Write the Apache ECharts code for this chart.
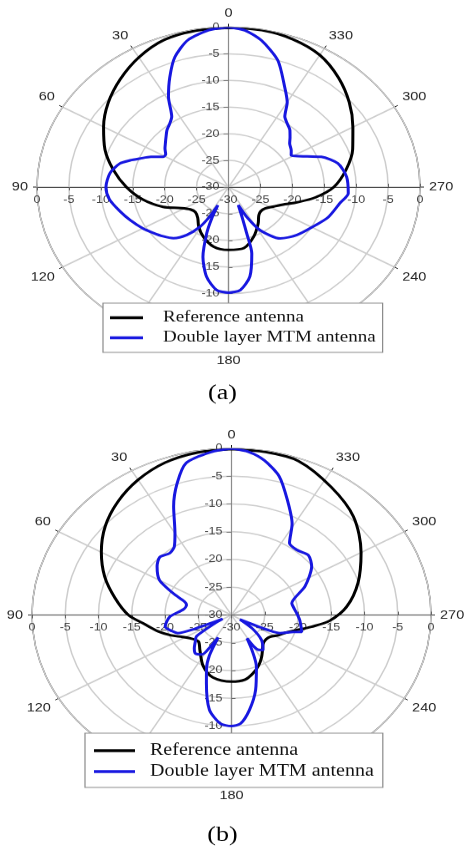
<!DOCTYPE html>
<html><head><meta charset="utf-8">
<script src="https://cdn.jsdelivr.net/npm/echarts@6/dist/echarts.min.js"></script>
<style>
html,body{margin:0;padding:0;background:#fff;overflow:hidden;width:468px;height:848px;}
#wrap{width:468px;height:848px;overflow:hidden;position:relative;}
#chart{width:468px;height:1016px;transform:scaleY(0.835);transform-origin:0 0;}
</style></head><body><div id="wrap"><div id="chart"></div></div>
<script>
// ---- data (angle in degrees, counter-clockwise from top; gain in dB) ----
const seriesNames = ['Reference antenna', 'Double layer MTM antenna'];
const captions = ['(a)', '(b)'];

const refAngA = [0,10,20,30,40,50,60,70,80,90,100,110,118,125,132,140,148,157,168,180,192,203,214,222,228,235,243,250,255,262,270,280,290,300,310,320,330,340,350,360];
const refValA = [-0.1,-0.2,-0.6,-1.9,-3.6,-5.4,-7.4,-9.4,-11.7,-14.0,-16.4,-19.1,-21.6,-22.7,-23.0,-22.5,-21.2,-19.9,-18.6,-18.2,-18.3,-19.9,-21.7,-22.9,-23.2,-23.0,-22.0,-20.6,-18.9,-16.2,-13.5,-11.3,-9.3,-7.5,-5.3,-3.2,-1.4,-0.5,-0.1,-0.1];

const mtmAngA = [0,6,13,19,24,29,34,38,42,46,50,54,58,61,65,69,72,75.5,82,90,97,105,112,120,126,132,138,144,149,152,154,156,158.5,163,168.5,174.5,180,185.5,191.3,196.3,198.2,200.5,204.5,207.1,211.5,220,230,240.8,250,260.1,266.4,276,284.5,291.3,295,301.4,305,310.5,314,318.1,322,326.3,330,335,342,349.4,355,360];
const mtmValA = [0,-0.4,-1.7,-4.2,-7.4,-10.6,-14.1,-15.0,-15.6,-16.4,-17.1,-17.7,-18.4,-18.3,-16.6,-15.1,-13.8,-12.4,-11.25,-10.8,-11.2,-12.4,-13.4,-14.5,-15.4,-16.2,-17.1,-18.9,-21.3,-23.7,-26.2,-23.5,-20.7,-16.3,-12.8,-10.6,-10.2,-10.6,-12.9,-17.0,-20.9,-23.8,-26.3,-23.7,-20.5,-17.4,-16.0,-14.8,-13.4,-12.3,-11.2,-11.4,-12.3,-14.4,-16.4,-18.5,-18.0,-17.4,-16.6,-15.6,-15.0,-14.1,-11.6,-9.2,-5.0,-2.0,-0.5,0];

const refAngB = [0,10,20,30,40,50,60,70,80,90,97,105,112,118,124,134,143,155,166,180,190,197,204,211,218,223,230,236,243,249,254,260,266,275,287,300,314,327,340,350,360];
const refValB = [-0.1,-0.3,-0.8,-1.9,-3.4,-5.2,-7.4,-9.7,-12.2,-14.5,-16.8,-18.6,-20.2,-21.6,-22.5,-23.1,-22.1,-19.9,-18.4,-18.0,-18.2,-19.0,-20.0,-21.2,-22.4,-23.0,-23.2,-23.0,-22.0,-21.2,-20.0,-17.8,-15.2,-12.6,-10.1,-7.5,-4.5,-2.5,-0.5,-0.2,-0.1];

const mtmAngB = [0,6,14,19,24,30,35,40,46,52,60,66,71,75,82,92,102,108,112,114,117,121,126,131,137,142,148,151,153.5,155.5,159,163,169,175,180,184,189,195,202,206,209,213,217,225,232,238,244,246,252,254,265,272,277,283,295,306,313,320,326,331,338,344,350,355,360];
const mtmValB = [0,-0.5,-1.8,-4.9,-8.6,-13.0,-15.0,-15.5,-15.0,-15.8,-17.5,-20.4,-22.5,-23.0,-22.7,-20.7,-19.8,-20.6,-21.3,-23.5,-28.5,-27.0,-23.5,-22.8,-21.8,-21.2,-21.6,-23.5,-25.5,-22.0,-19.5,-17.1,-12.6,-10.4,-10.0,-10.4,-12.7,-16.0,-20.0,-23.0,-25.2,-22.5,-22.1,-23.6,-26.0,-28.5,-23.5,-22.0,-20.2,-19.0,-19.7,-20.2,-20.5,-20.7,-17.8,-15.1,-14.2,-14.7,-14.4,-11.2,-7.6,-4.0,-1.7,-0.5,0];

const rMin = -30, rMax = 0, rStep = 5;
const angMin = 0, angMax = 360, angStep = 30;

// ---- layout / style ----
const SANS = '"Liberation Sans", Arial, sans-serif';
const SERIF = '"Liberation Serif", "Times New Roman", serif';
const plots = [
  {center:[228.5, 224.0], radius:191.5, ref:[refAngA, refValA], mtm:[mtmAngA, mtmValA],
   legend:{left:103, top:363, padding:[8,7,8,7], itemWidth:33, font:19, textPad:15, gap:5},
   caption:{x:222.5, y:470.7}},
  {center:[231.5, 736.5], radius:199.5, ref:[refAngB, refValB], mtm:[mtmAngB, mtmValB],
   legend:{left:85, top:878, padding:[11,9,9,9], itemWidth:41, font:20, textPad:10, gap:5},
   caption:{x:222.5, y:1000}}
];

const polar = [], angleAxis = [], radiusAxis = [], series = [], legend = [], graphic = [];

function pairs(ang, val) { return val.map((v, i) => [v, ang[i]]); }

plots.forEach((p, k) => {
  const base = polar.length;
  // main polar
  polar.push({center: p.center, radius: p.radius});
  angleAxis.push({
    polarIndex: base, type: 'value', min: angMin, max: angMax, interval: angStep,
    startAngle: 90, clockwise: false, z: 1,
    axisLine: {show: true, lineStyle: {color: '#1a1a1a', width: 1.3}},
    axisTick: {show: true, length: 4, lineStyle: {color: '#1a1a1a', width: 1}},
    axisLabel: {show: true, margin: 9, color: '#262626', fontSize: 14.5, fontFamily: SANS,
      align: 'center', verticalAlign: 'middle',
      formatter: v => (v === 360 ? '' : String(v))},
    splitLine: {show: true, lineStyle: {color: '#cdcdcd', width: 1.5}}
  });
  radiusAxis.push({
    polarIndex: base, type: 'value', min: rMin, max: rMax, interval: rStep, z: 2,
    axisLine: {show: true, lineStyle: {color: '#8c8c8c', width: 1}},
    axisTick: {show: true, length: 5, lineStyle: {color: '#777'}},
    axisLabel: {show: true, margin: 9, color: '#444', fontSize: 12.5, fontFamily: SANS},
    splitLine: {show: true, lineStyle: {color: '#cdcdcd', width: 1.5}}
  });
  // auxiliary polars: extra radial label axes (down, left, right)
  const aux = [
    {sa: 270, line: '#8c8c8c', label: {margin: -9, align: 'right', verticalAlign: 'middle'}, showMin: false},
    {sa: 180, line: '#4a4a4a', label: {margin: 9, align: 'center', verticalAlign: 'top'}, showMin: true},
    {sa: 0, line: '#4a4a4a', label: {margin: -9, align: 'center', verticalAlign: 'top'}, showMin: false}
  ];
  aux.forEach(a => {
    const idx = polar.length;
    polar.push({center: p.center, radius: p.radius});
    angleAxis.push({polarIndex: idx, type: 'value', min: angMin, max: angMax, interval: angStep,
      startAngle: a.sa, show: false});
    radiusAxis.push({
      polarIndex: idx, type: 'value', min: rMin, max: rMax, interval: rStep, z: 2,
      axisLine: {show: true, lineStyle: {color: a.line, width: 1.2}},
      axisTick: {show: true, length: 4, lineStyle: {color: '#666'}},
      axisLabel: Object.assign({show: true, color: '#444', fontSize: 12.5, fontFamily: SANS,
        showMinLabel: a.showMin}, a.label),
      splitLine: {show: false}
    });
  });
  series.push({
    type: 'line', name: seriesNames[0], coordinateSystem: 'polar', polarIndex: base,
    data: pairs(p.ref[0], p.ref[1]), showSymbol: false, symbol: 'none', smooth: 0.3,
    lineStyle: {color: '#000', width: 3}, itemStyle: {color: '#000'}, z: 5
  });
  series.push({
    type: 'line', name: seriesNames[1], coordinateSystem: 'polar', polarIndex: base,
    data: pairs(p.mtm[0], p.mtm[1]), showSymbol: false, symbol: 'none', smooth: 0.25,
    lineStyle: {color: '#1717e0', width: 3}, itemStyle: {color: '#1717e0'}, z: 6
  });
  const L = p.legend;
  legend.push({
    data: seriesNames, orient: 'vertical', left: L.left, top: L.top, padding: L.padding,
    itemGap: L.gap, itemWidth: L.itemWidth, itemHeight: 3.5, icon: 'rect',
    backgroundColor: '#fff', borderColor: '#8a8a8a', borderWidth: 1.2, z: 10,
    selectedMode: false,
    textStyle: {fontFamily: SERIF, fontSize: L.font, color: '#111', padding: [0, 0, 0, L.textPad]}
  });
  graphic.push({type: 'text', x: p.caption.x, y: p.caption.y, z: 20,
    style: {text: captions[k], fontSize: 26, fontFamily: SERIF, fill: '#000',
      align: 'center', verticalAlign: 'middle'}});
});

const chart = echarts.init(document.getElementById('chart'));
chart.setOption({animation: false, backgroundColor: '#fff',
  polar, angleAxis, radiusAxis, series, legend, graphic});
</script></body></html>
